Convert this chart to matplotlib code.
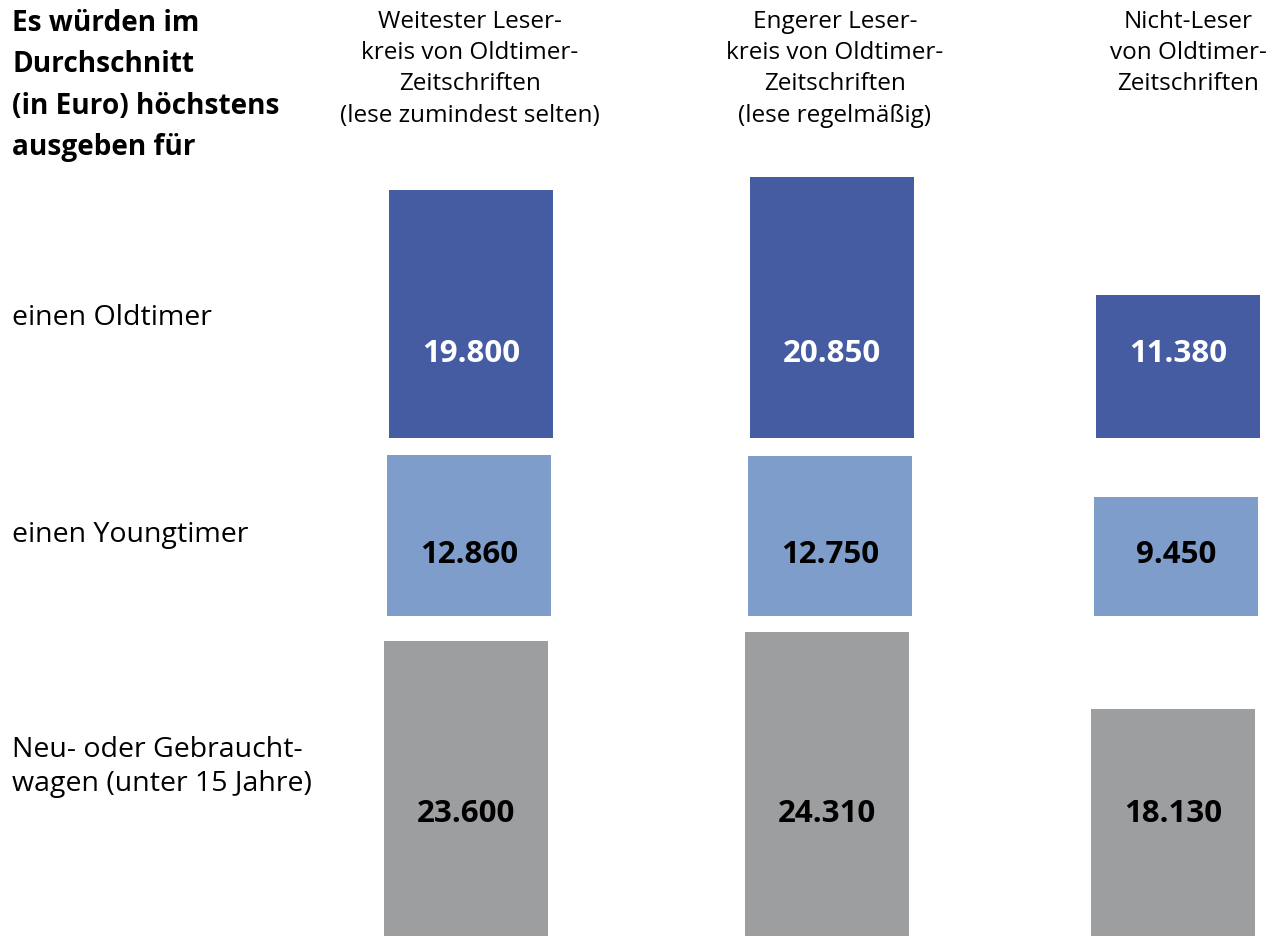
import matplotlib.pyplot as plt

plt.rcParams["font.family"] = ["Open Sans", "DejaVu Sans"]

# data (euro)
groups = ["Weitester Leser-\nkreis von Oldtimer-\nZeitschriften\n(lese zumindest selten)",
          "Engerer Leser-\nkreis von Oldtimer-\nZeitschriften\n(lese regelmäßig)",
          "Nicht-Leser\nvon Oldtimer-\nZeitschriften"]
rows = ["einen Oldtimer", "einen Youngtimer", "Neu- oder Gebraucht-\nwagen (unter 15 Jahre)"]
oldtimer = [19800, 20850, 11380]
youngtimer = [12860, 12750, 9450]
neuwagen = [23600, 24310, 18130]
values = [oldtimer, youngtimer, neuwagen]

colors = ["#455ca3", "#7f9dcb", "#9d9ea0"]
txt_colors = ["white", "black", "black"]

W, H = 1277, 936
scale = 0.0125  # px per euro
# row layout in px: (bottom, top, label y, value y, x shift)
row_box = [(437.5, 160, 318, 354, 0), (615.5, 440, 535, 555, -2), (936, 620, 767, 814, -5)]
col_x = [471, 832, 1178]
bar_w = 164

fig = plt.figure(figsize=(W / 100, H / 100), dpi=100)

for r, (bot, top, ly, vy, dx) in enumerate(row_box):
    ax = fig.add_axes([0, 1 - bot / H, 1, (bot - top) / H])
    ax.set_xlim(0, W)
    ax.set_ylim(0, (bot - top) / scale)
    ax.axis("off")
    xs = [c + dx for c in col_x]
    ax.bar(xs, values[r], width=bar_w, color=colors[r], linewidth=0)
    for x, v in zip(xs, values[r]):
        lbl = f"{v:,}".replace(",", ".")
        fig.text(x / W, 1 - vy / H, lbl, ha="center", va="center",
                 fontsize=22.5, fontweight="bold", color=txt_colors[r])
    fig.text(12 / W, 1 - ly / H, rows[r], ha="left", va="center",
             fontsize=20.5, linespacing=1.33)

# column headers
for x, g in zip([470, 835, 1188], groups):
    fig.text(x / W, 1 - 10 / H, g, ha="center", va="top", fontsize=17.5, linespacing=1.4)

fig.text(12 / W, 1 - 9 / H, "Es würden im\nDurchschnitt\n(in Euro) höchstens\nausgeben für",
         ha="left", va="top", fontsize=20.2, fontweight="bold", linespacing=1.56)

fig.savefig("out.png", dpi=100)
